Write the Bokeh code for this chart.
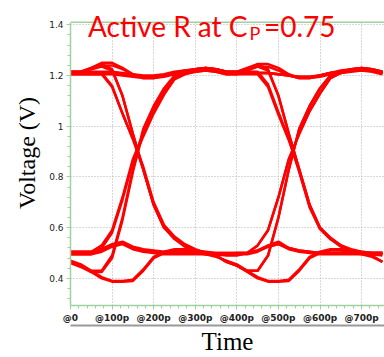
import numpy as np
from bokeh.plotting import figure
from bokeh.models import LinearAxis, FixedTicker, Label, ColumnDataSource, Range1d, Grid, Span
from bokeh.embed import file_html
from bokeh.resources import INLINE

# ---- data ----
times_ps = [0, 25, 50, 75, 100, 125, 150, 175, 200, 225, 250, 275, 300, 325, 350,
            375, 400, 425, 450, 475, 500, 525, 550, 575, 600, 625, 650, 675, 700, 725, 750]

trace_01 = [1.21, 1.21, 1.21, 1.21, 1.21, 1.205, 1.20,
            1.195, 1.195, 1.20, 1.21, 1.215, 1.22, 1.225, 1.22, 1.21, 1.21, 1.21, 1.21, 1.21, 1.205, 1.20,
            1.195, 1.195, 1.20, 1.21, 1.215, 1.22, 1.225, 1.22, 1.21]
trace_02 = [1.215, 1.215, 1.23, 1.245, 1.225, 1.12, 0.97,
            0.83, 0.69, 0.60, 0.555, 0.525, 0.505, 0.495, 0.49, 0.495, 0.50, 0.50, 0.51, 0.53, 0.545, 0.52,
            0.51, 0.505, 0.50, 0.50, 0.50, 0.50, 0.50, 0.50, 0.50]
trace_03 = [0.505, 0.505, 0.505, 0.53, 0.59, 0.72, 0.87,
            0.97, 1.06, 1.13, 1.19, 1.21, 1.225, 1.23, 1.225, 1.215, 1.215, 1.23, 1.245, 1.225, 1.12, 0.97,
            0.83, 0.69, 0.60, 0.56, 0.53, 0.51, 0.50, 0.495, 0.49]
trace_04 = [0.465, 0.45, 0.43, 0.43, 0.49, 0.64, 0.83,
            0.99, 1.08, 1.15, 1.20, 1.215, 1.225, 1.23, 1.225, 1.215, 1.215, 1.21, 1.21, 1.21, 1.205, 1.20,
            1.19, 1.19, 1.20, 1.21, 1.22, 1.225, 1.23, 1.225, 1.215]
trace_05 = [1.205, 1.205, 1.205, 1.205, 1.155, 1.05, 0.95,
            0.84, 0.70, 0.61, 0.565, 0.535, 0.515, 0.50, 0.49, 0.465, 0.45, 0.425, 0.40, 0.387, 0.387, 0.39,
            0.43, 0.48, 0.50, 0.51, 0.51, 0.505, 0.50, 0.50, 0.50]
trace_06 = [0.50, 0.50, 0.50, 0.51, 0.53, 0.54, 0.52,
            0.51, 0.505, 0.50, 0.50, 0.50, 0.50, 0.50, 0.50, 0.50, 0.50, 0.50, 0.53, 0.59, 0.72, 0.87,
            0.97, 1.06, 1.13, 1.19, 1.21, 1.22, 1.225, 1.22, 1.21]
trace_07 = [0.47, 0.455, 0.43, 0.405, 0.39, 0.39, 0.395,
            0.435, 0.485, 0.505, 0.515, 0.515, 0.51, 0.505, 0.50, 0.50, 0.50, 0.50, 0.51, 0.525, 0.535, 0.52,
            0.51, 0.505, 0.50, 0.50, 0.50, 0.50, 0.50, 0.50, 0.50]
trace_08 = [1.21, 1.21, 1.225, 1.24, 1.24, 1.225, 1.205,
            1.19, 1.19, 1.20, 1.21, 1.215, 1.22, 1.225, 1.22, 1.21, 1.21, 1.225, 1.235, 1.22, 1.12, 0.97,
            0.83, 0.69, 0.60, 0.56, 0.53, 0.51, 0.50, 0.49, 0.465]
trace_09 = [1.215, 1.215, 1.215, 1.215, 1.215, 1.21, 1.205,
            1.20, 1.20, 1.205, 1.215, 1.22, 1.225, 1.23, 1.225, 1.215, 1.215, 1.215, 1.215, 1.165, 1.055, 0.95,
            0.82, 0.68, 0.595, 0.555, 0.53, 0.515, 0.505, 0.50, 0.50]
trace_10 = [0.495, 0.495, 0.495, 0.52, 0.58, 0.71, 0.86,
            0.96, 1.05, 1.125, 1.185, 1.205, 1.215, 1.22, 1.215, 1.205, 1.205, 1.205, 1.205, 1.155, 1.045, 0.945,
            0.825, 0.685, 0.595, 0.555, 0.525, 0.505, 0.495, 0.485, 0.465]
trace_11 = [1.21, 1.21, 1.21, 1.21, 1.16, 1.05, 0.95,
            0.83, 0.69, 0.60, 0.56, 0.53, 0.51, 0.50, 0.495, 0.49, 0.49, 0.50, 0.53, 0.59, 0.72, 0.87,
            0.97, 1.06, 1.13, 1.19, 1.21, 1.22, 1.225, 1.22, 1.21]
trace_12 = [0.46, 0.445, 0.425, 0.425, 0.48, 0.63, 0.82,
            0.98, 1.07, 1.14, 1.195, 1.21, 1.22, 1.225, 1.22, 1.21, 1.21, 1.225, 1.245, 1.245, 1.23, 1.205,
            1.19, 1.19, 1.20, 1.21, 1.215, 1.22, 1.225, 1.22, 1.21]
trace_13 = [1.21, 1.21, 1.225, 1.235, 1.22, 1.12, 0.97,
            0.83, 0.69, 0.60, 0.56, 0.53, 0.51, 0.50, 0.49, 0.465, 0.45, 0.43, 0.43, 0.49, 0.64, 0.83,
            0.99, 1.08, 1.15, 1.20, 1.215, 1.225, 1.23, 1.225, 1.215]
trace_14 = [0.505, 0.505, 0.505, 0.515, 0.535, 0.545, 0.525,
            0.515, 0.51, 0.505, 0.505, 0.505, 0.50, 0.495, 0.485, 0.47, 0.455, 0.43, 0.405, 0.39, 0.39, 0.395,
            0.435, 0.485, 0.505, 0.515, 0.515, 0.51, 0.505, 0.50, 0.50]
trace_15 = [1.205, 1.205, 1.205, 1.205, 1.205, 1.20, 1.195,
            1.19, 1.19, 1.195, 1.205, 1.21, 1.215, 1.22, 1.215, 1.205, 1.205, 1.22, 1.235, 1.235, 1.22, 1.20,
            1.19, 1.19, 1.195, 1.205, 1.21, 1.215, 1.22, 1.215, 1.205]
trace_16 = [0.465, 0.45, 0.425, 0.40, 0.387, 0.387, 0.39,
            0.43, 0.48, 0.50, 0.51, 0.51, 0.505, 0.50, 0.49, 0.465, 0.45, 0.43, 0.43, 0.49, 0.64, 0.83,
            0.99, 1.08, 1.15, 1.20, 1.215, 1.225, 1.23, 1.225, 1.215]
trace_17 = [1.215, 1.215, 1.23, 1.25, 1.25, 1.23, 1.205,
            1.19, 1.19, 1.20, 1.21, 1.22, 1.225, 1.23, 1.225, 1.215, 1.21, 1.21, 1.21, 1.21, 1.205, 1.20,
            1.195, 1.195, 1.20, 1.21, 1.215, 1.22, 1.225, 1.22, 1.21]
trace_18 = [0.495, 0.495, 0.495, 0.505, 0.525, 0.535, 0.515,
            0.505, 0.50, 0.495, 0.495, 0.495, 0.495, 0.495, 0.495, 0.495, 0.495, 0.495, 0.505, 0.525, 0.535, 0.515,
            0.505, 0.50, 0.495, 0.495, 0.495, 0.495, 0.495, 0.495, 0.495]

traces = [trace_01, trace_02, trace_03, trace_04, trace_05, trace_06, trace_07, trace_08, trace_09,
          trace_10, trace_11, trace_12, trace_13, trace_14, trace_15, trace_16, trace_17, trace_18]

y_ticks = [0.4, 0.6, 0.8, 1.0, 1.2, 1.4]
y_tick_labels = ["0.4", "0.6", "0.8", "1", "1.2", "1.4"]
x_ticks = [0, 100, 200, 300, 400, 500, 600, 700]
x_tick_labels = ["@0", "@100p", "@200p", "@300p", "@400p", "@500p", "@600p", "@700p"]

title_main = "Active R at C"
title_sub = "P"
title_tail = "=0.75"

# ---- figure ----
GREEN = "#9fd19f"
Y_LO, Y_HI = 0.293, 1.41          # visible plot window (volts)
Y_TOP = Y_HI + 22 / 256           # extra headroom for the title strip
X_HI = 755

p = figure(width=384, height=357, x_range=Range1d(0, X_HI), y_range=Range1d(Y_LO, Y_TOP),
           output_backend="svg", toolbar_location=None, x_axis_type=None, y_axis_type=None,
           min_border_left=70, min_border_right=0, min_border_top=0, min_border_bottom=49)
p.outline_line_color = None
p.background_fill_color = "white"
p.border_fill_color = "white"

xticker = FixedTicker(ticks=x_ticks, minor_ticks=list(np.arange(0, 756, 20)))
yticker = FixedTicker(ticks=y_ticks, minor_ticks=list(np.round(np.arange(0.32, 1.41, 0.04), 3)))

p.add_layout(Grid(dimension=0, ticker=xticker, grid_line_color="#b0b0b0", grid_line_dash="1 2",
                  cross_bounds=(Y_LO, Y_HI)))
p.add_layout(Grid(dimension=1, ticker=yticker, grid_line_color="#b0b0b0", grid_line_dash="1 2"))

src = ColumnDataSource(dict(xs=[times_ps] * len(traces), ys=traces))
p.multi_line("xs", "ys", source=src, line_color="#ff0000", line_width=2.5)

tick_style = dict(axis_line_color=GREEN, axis_line_width=1.5,
                  major_tick_line_color=GREEN, minor_tick_line_color=GREEN,
                  major_tick_in=0, major_tick_out=4, minor_tick_in=0, minor_tick_out=3,
                  major_label_text_font="DejaVu Sans", major_label_text_font_size="9px",
                  major_label_text_color="#222222")

yaxis = LinearAxis(ticker=yticker, bounds=(Y_LO, Y_HI),
                   major_label_overrides=dict(zip(y_ticks, y_tick_labels)),
                   axis_label="Voltage (V)", axis_label_text_font="Liberation Serif",
                   axis_label_text_font_size="24px", axis_label_text_font_style="normal",
                   axis_label_text_color="black", axis_label_standoff=6, major_label_standoff=3,
                   **tick_style)
p.add_layout(yaxis, "left")

xaxis = LinearAxis(ticker=xticker, major_label_overrides=dict(zip(x_ticks, x_tick_labels)),
                   major_label_standoff=3, major_label_text_font_style="bold", **tick_style)
p.add_layout(xaxis, "below")

bar_axis = LinearAxis(ticker=FixedTicker(ticks=[]), axis_line_color="#9a9a9a", axis_line_width=2,
                      major_tick_line_color=None, minor_tick_line_color=None,
                      major_label_text_font_size="0px",
                      axis_label="Time", axis_label_text_font="Liberation Serif",
                      axis_label_text_font_size="25px", axis_label_text_font_style="normal",
                      axis_label_text_color="black", axis_label_standoff=2)
p.add_layout(bar_axis, "below")

# top border of the plot window
p.add_layout(Span(location=Y_HI, dimension="width", line_color=GREEN, line_width=1.5))

# title pieces (placed in the headroom strip)
def px_to_x(px):
    return (px - 70) / 314 * X_HI

def py_to_y(py):
    return Y_HI - (py - 22) / 256

p.add_layout(Label(x=px_to_x(247), y=py_to_y(26), text=title_main, text_align="right",
                   text_baseline="alphabetic", text_font="Lato", text_font_size="28px",
                   text_color="#ff0000"))
p.add_layout(Label(x=px_to_x(249), y=py_to_y(33), text=title_sub, text_align="left",
                   text_baseline="alphabetic", text_font="Lato", text_font_size="18px",
                   text_color="#ff0000"))
p.add_layout(Label(x=px_to_x(335), y=py_to_y(26), text=title_tail, text_align="right",
                   text_baseline="alphabetic", text_font="Lato", text_font_size="28px",
                   text_color="#ff0000"))

open("out.html", "w").write(file_html(p, INLINE))
